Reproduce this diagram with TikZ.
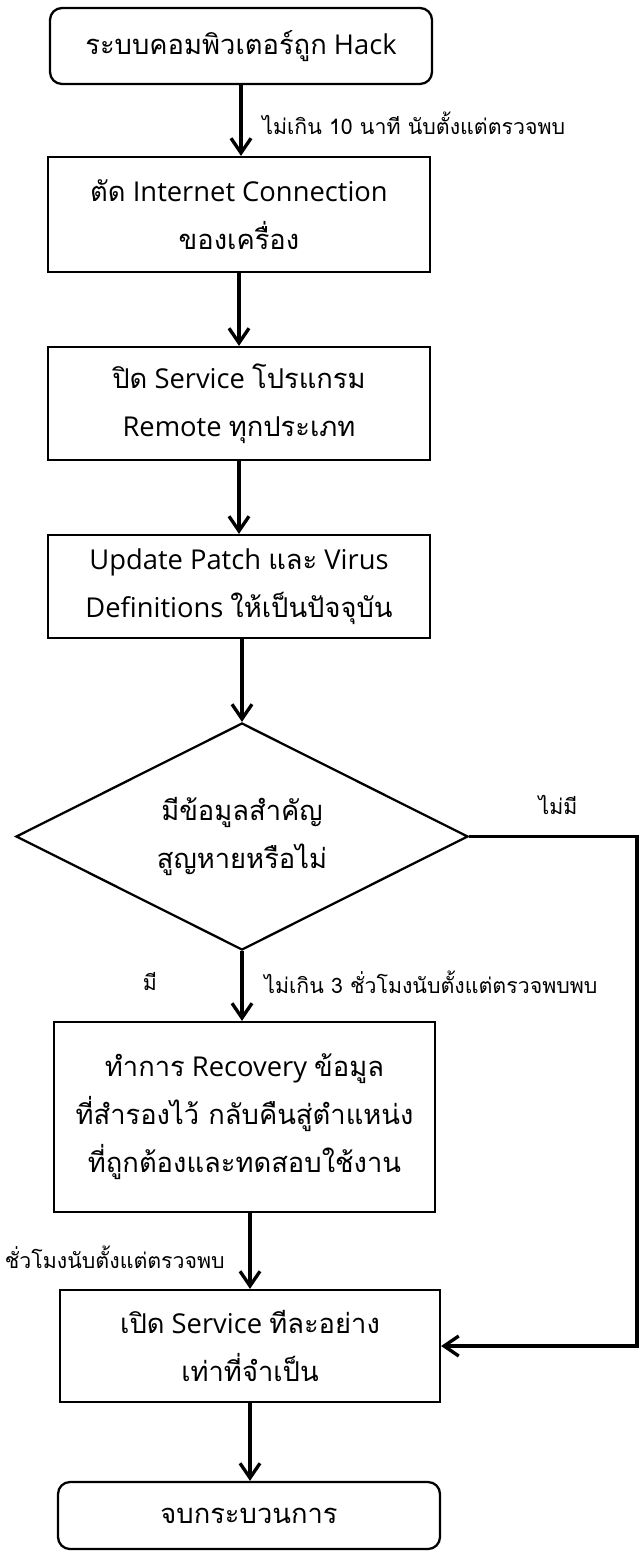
\documentclass[tikz,border=0pt]{standalone}
\usepackage{fontspec}
\setmainfont{Open Sans}
\newfontfamily\thaifont[Script=Thai]{Loma}
\newcommand\tha[1]{{\thaifont #1}}
\usetikzlibrary{arrows.meta,shapes.geometric}
\begin{document}
\begin{tikzpicture}[x=0.75pt,y=-0.75pt,
  box/.style={draw,line width=1.7pt,minimum width=#1*0.75pt,align=center,inner sep=0pt,
    font=\fontsize{20.5}{36}\selectfont},
  term/.style={box=#1,rounded corners=9pt},
  decision/.style={draw,line width=1.7pt,diamond,aspect=2,inner sep=0pt,align=center,
    minimum width=452*0.75pt,minimum height=227*0.75pt,font=\fontsize{20.5}{36}\selectfont},
  flow/.style={line width=2.5pt,-{Straight Barb[length=11pt,width=15pt,line width=2.5pt]}},
  lbl/.style={inner sep=0pt,font=\fontsize{16}{20}\selectfont\thaifont}]
\useasboundingbox (0,0) rectangle (643,1551);
\node[term=382,minimum height=76*0.75pt] (b1) at (241,46) {\tha{ระบบคอมพิวเตอร์ถูก} Hack};
\node[box=382,minimum height=115*0.75pt] (b2) at (239,214.5) {\tha{ตัด} Internet Connection\\\tha{ของเครื่อง}};
\node[box=382,minimum height=113*0.75pt] (b3) at (239,403.5) {\tha{ปิด} Service \tha{โปรแกรม}\\Remote \tha{ทุกประเภท}};
\node[box=382,minimum height=103*0.75pt] (b4) at (239,586.5) {Update Patch \tha{และ} Virus\\Definitions \tha{ให้เป็นปัจจุบัน}};
\node[decision] (d) at (242,836.5) {\tha{มีข้อมูลสำคัญ}\\\tha{สูญหายหรือไม่}};
\node[box=381,minimum height=190*0.75pt] (b5) at (244.5,1117) {\tha{ทำการ} Recovery \tha{ข้อมูล}\\\tha{ที่สำรองไว้ กลับคืนสู่ตำแหน่ง}\\\tha{ที่ถูกต้องและทดสอบใช้งาน}};
\node[box=380,minimum height=112*0.75pt] (b6) at (250,1346) {\tha{เปิด} Service \tha{ทีละอย่าง}\\\tha{เท่าที่จำเป็น}};
\node[term=382,minimum height=67*0.75pt] (b7) at (249,1515.5) {\tha{จบกระบวนการ}};
\coordinate (rt) at (637,836.5);
\draw[flow] (b1.south) -- (b1.south |- b2.north);
\draw[flow] (b2.south) -- (b2.south |- b3.north);
\draw[flow] (b3.south) -- (b3.south |- b4.north);
\draw[flow] (b4.south -| d.north) -- (d.north);
\draw[flow] (d.south) -- (d.south |- b5.north);
\draw[flow] (b6.north |- b5.south) -- (b6.north);
\draw[flow] (b6.south) -- (b6.south |- b7.north);
\draw[flow] (d.east) -- (rt) |- (b6.east);
\node[lbl,anchor=west] (l1) at (262,123) {ไม่เกิน 10 นาที นับตั้งแต่ตรวจพบ};
\node[lbl] (l2) at (558,805) {ไม่มี};
\node[lbl] (l3) at (150,982) {มี};
\node[lbl,anchor=west] (l4) at (264,982) {ไม่เกิน 3 ชั่วโมงนับตั้งแต่ตรวจพบพบ};
\node[lbl,anchor=east] (l5) at (225,1257) {ชั่วโมงนับตั้งแต่ตรวจพบ};
\end{tikzpicture}
\end{document}
